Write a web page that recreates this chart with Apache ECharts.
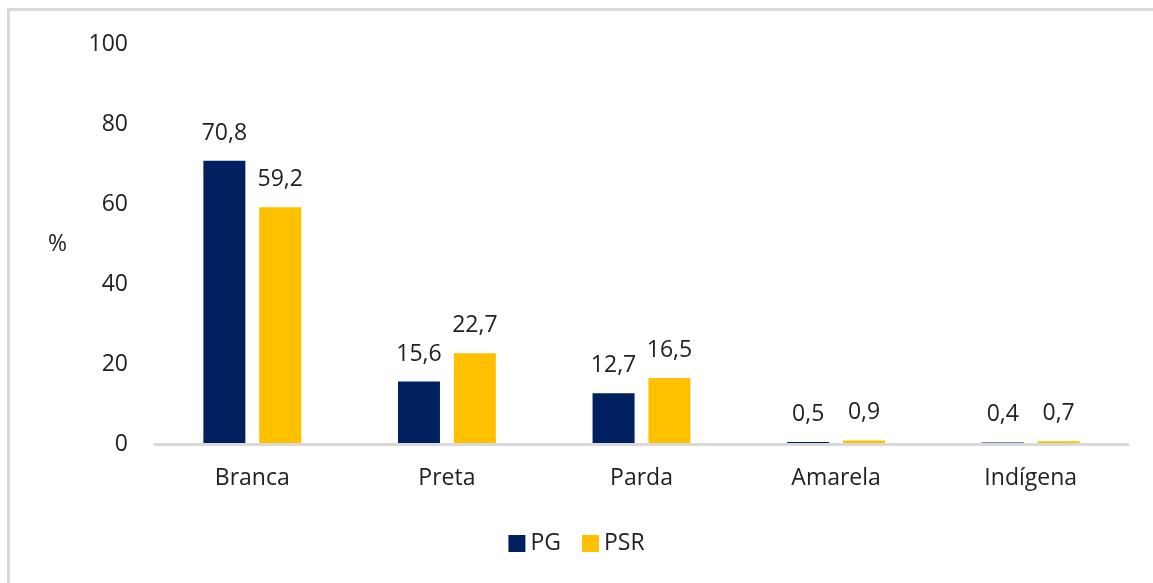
<!DOCTYPE html>
<html>
<head>
<meta charset="utf-8">
<script src="https://cdn.jsdelivr.net/npm/echarts@6/dist/echarts.min.js"></script>
<style>
  html, body { margin: 0; padding: 0; background: #fff; }
  #frame { position: absolute; left: 7px; top: 8px; width: 1146px; height: 575px;
           border-left: 3px solid #d9d9d9; border-top: 3px solid #d9d9d9; box-sizing: border-box; }
  #main { position: absolute; left: 0; top: 0; width: 1153px; height: 583px; }
</style>
</head>
<body>
<div id="frame"></div>
<div id="main"></div>
<script>
// dados
var categorias = ['Branca', 'Preta', 'Parda', 'Amarela', 'Indígena'];
var pg = [70.8, 15.6, 12.7, 0.5, 0.4];
var psr = [59.2, 22.7, 16.5, 0.9, 0.7];

var fonte = '"Open Sans", "Noto Sans", sans-serif';
var tam = 23;

var chart = echarts.init(document.getElementById('main'));

function rotulo(p) {
  return String(p.value).replace('.', ',');
}

var option = {
  animation: false,
  grid: { left: 155, right: 25, top: 44, bottom: 139 },
  legend: {
    bottom: 23,
    left: 'center',
    itemWidth: 17,
    itemHeight: 17,
    itemGap: 21,
    textStyle: { fontFamily: fonte, fontSize: tam, color: '#222' },
    data: [
      { name: 'PG', icon: 'rect' },
      { name: 'PSR', icon: 'rect' }
    ]
  },
  xAxis: {
    type: 'category',
    data: categorias,
    z: 5,
    axisTick: { show: false },
    axisLine: { lineStyle: { color: '#d9d9d9', width: 3 } },
    axisLabel: { fontFamily: fonte, fontSize: tam, color: '#222', margin: 23 }
  },
  yAxis: {
    type: 'value',
    min: 0,
    max: 100,
    interval: 20,
    name: '%',
    nameLocation: 'middle',
    nameRotate: 0,
    nameGap: 88,
    nameTextStyle: { fontFamily: fonte, fontSize: tam, color: '#222' },
    splitLine: { show: false },
    axisLine: { show: false },
    axisTick: { show: false },
    axisLabel: { fontFamily: fonte, fontSize: tam, color: '#222', margin: 27 }
  },
  series: [
    {
      name: 'PG',
      type: 'bar',
      data: pg,
      barWidth: 42,
      barGap: '33%',
      itemStyle: { color: '#002060' },
      label: { show: true, position: 'top', distance: 16, formatter: rotulo,
               fontFamily: fonte, fontSize: tam, color: '#222' }
    },
    {
      name: 'PSR',
      type: 'bar',
      data: psr,
      barWidth: 42,
      itemStyle: { color: '#FFC000' },
      label: { show: true, position: 'top', distance: 16, formatter: rotulo,
               fontFamily: fonte, fontSize: tam, color: '#222' }
    }
  ]
};

chart.setOption(option);
</script>
</body>
</html>
